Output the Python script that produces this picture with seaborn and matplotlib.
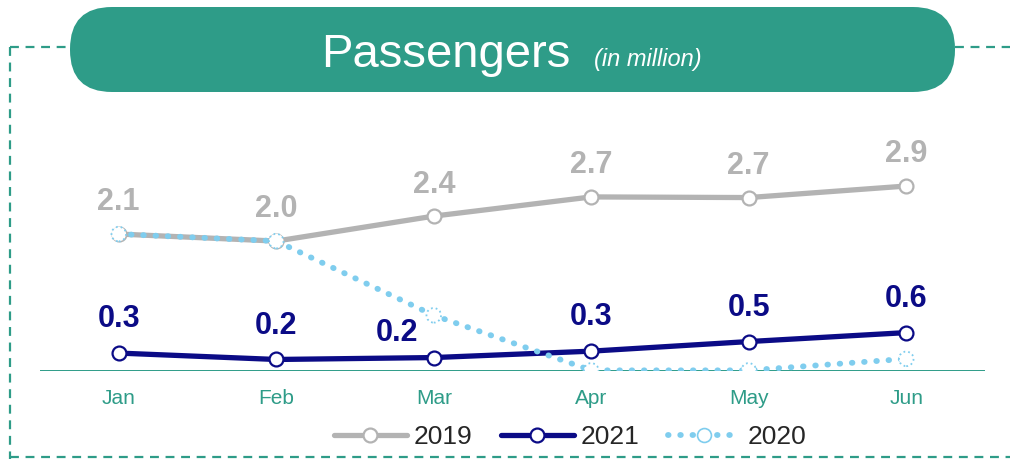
import matplotlib
matplotlib.use("Agg")
import matplotlib.pyplot as plt
from matplotlib.patches import FancyBboxPatch
from matplotlib.lines import Line2D
import seaborn as sns
import pandas as pd

months = ["Jan", "Feb", "Mar", "Apr", "May", "Jun"]
pax_2019 = [2.14, 2.03, 2.42, 2.72, 2.71, 2.89]
pax_2021 = [0.28, 0.18, 0.21, 0.31, 0.46, 0.60]
pax_2020 = [2.14, 2.03, 0.87, 0.01, 0.01, 0.19]

TEAL = "#2E9C88"
GREY = "#B3B3B3"
NAVY = "#0B0B86"
SKY = "#7FCDEE"

sns.set_theme(style="white")
plt.rcParams["font.family"] = ["Liberation Sans", "DejaVu Sans"]

W, H = 1010, 459
fig = plt.figure(figsize=(W / 100, H / 100), dpi=100)

# decorative layer in pixel coordinates
deco = fig.add_axes([0, 0, 1, 1])
deco.set_xlim(0, W)
deco.set_ylim(H, 0)
deco.axis("off")
dash = dict(color=TEAL, lw=1.6, ls=(0, (4, 3)))
deco.plot([10, 70], [47, 47], **dash)
deco.plot([955, 1010], [47, 47], **dash)
deco.plot([10, 10], [47, 459], **dash)
deco.plot([10, 1010], [457, 457], **dash)
pill = FancyBboxPatch((70, 7), 885, 85,
                      boxstyle="round,pad=0,rounding_size=42",
                      facecolor=TEAL, edgecolor="none", zorder=3)
deco.add_patch(pill)
deco.text(446, 67, "Passengers", color="white", fontsize=34,
          ha="center", va="baseline", zorder=4)
deco.text(648, 66, "(in million)", color="white", fontsize=17, style="italic",
          ha="center", va="baseline", zorder=4)

# main chart axes
px_per_unit = 64.0
ax_left, ax_right = 40, 985
ax_bottom, ax_top = 371, 100
ax = fig.add_axes([ax_left / W, (H - ax_bottom) / H,
                   (ax_right - ax_left) / W, (ax_bottom - ax_top) / H])
ax.set_xlim(-0.5, 5.5)
ax.set_ylim(0, (ax_bottom - ax_top) / px_per_unit)
ax.patch.set_alpha(0)

x = list(range(len(months)))
df = pd.DataFrame({"x": x, "m": months, "y2019": pax_2019,
                   "y2021": pax_2021, "y2020": pax_2020})

sns.lineplot(data=df, x="x", y="y2019", ax=ax, color=GREY, lw=3.8,
             marker="o", markersize=10, markerfacecolor="white",
             markeredgecolor=GREY, markeredgewidth=1.6, zorder=3)
sns.lineplot(data=df, x="x", y="y2021", ax=ax, color=NAVY, lw=3.8,
             marker="o", markersize=10, markerfacecolor="white",
             markeredgecolor=NAVY, markeredgewidth=1.6, zorder=4)
sns.lineplot(data=df, x="x", y="y2020", ax=ax, color=SKY, lw=4.2,
             ls=(0, (0.1, 2.0)), dash_capstyle="round", zorder=5)
sns.scatterplot(data=df, x="x", y="y2020", ax=ax, s=110, color="white",
                edgecolor=SKY, linewidth=1.3, linestyle=":", zorder=6)

for xi, v in zip(x, pax_2019):
    ax.annotate(f"{v:.1f}", (xi, v), xytext=(0, 17), textcoords="offset points",
                ha="center", va="baseline", fontsize=22, fontweight="bold", color=GREY)
label_offsets_2021 = {2: (-26.5, 12)}
for xi, v in zip(x, pax_2021):
    off = label_offsets_2021.get(xi, (0, 18.5))
    ax.annotate(f"{v:.1f}", (xi, v), xytext=off, textcoords="offset points",
                ha="center", va="baseline", fontsize=22, fontweight="bold", color=NAVY)

ax.axhline(0, color=TEAL, lw=1.4, zorder=2)
for s in ax.spines.values():
    s.set_visible(False)
ax.set_yticks([])
ax.set_xticks(x)
ax.set_xticklabels(months, color=TEAL, fontsize=15)
ax.tick_params(axis="x", length=0, pad=13)
ax.set_xlabel("")
ax.set_ylabel("")

handles = [
    Line2D([], [], color=GREY, lw=3.8, marker="o", markersize=10,
           markerfacecolor="white", markeredgecolor=GREY, markeredgewidth=1.6),
    Line2D([], [], color=NAVY, lw=3.8, marker="o", markersize=10,
           markerfacecolor="white", markeredgecolor=NAVY, markeredgewidth=1.6),
    Line2D([], [], color=SKY, lw=4.2, ls=(0, (0.1, 2.0)), dash_capstyle="round",
           marker="o", markersize=10, markerfacecolor="white",
           markeredgecolor=SKY, markeredgewidth=1.2),
]
fig.legend(handles, ["2019", "2021", "2020"], loc="center",
           bbox_to_anchor=(570 / W, 1 - 437 / H), ncol=3, frameon=False,
           fontsize=19, handlelength=2.75, columnspacing=1.1, handletextpad=0.25)

fig.savefig("out.png", dpi=100)
